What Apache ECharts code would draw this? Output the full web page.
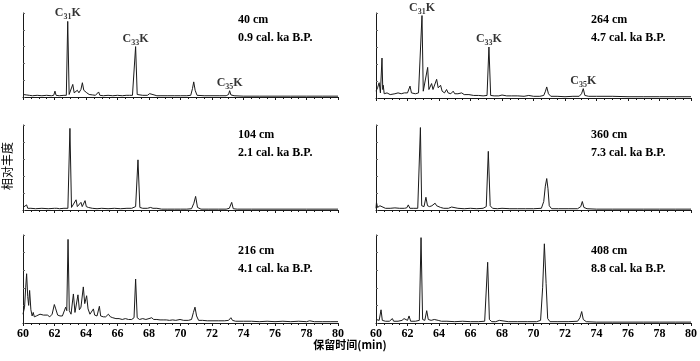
<!DOCTYPE html>
<html><head><meta charset="utf-8">
<script src="https://cdn.jsdelivr.net/npm/echarts@6/dist/echarts.min.js"></script>
<style>html,body{margin:0;padding:0;background:#fff}#c{width:700px;height:361px}</style>
</head><body><div id="c"></div>
<script>
// ---- DATA ----
const xTicks = [60,62,64,66,68,70,72,74,76,78,80];
const panelDepths = ['40 cm','264 cm','104 cm','360 cm','216 cm','408 cm'];
const panelAges = ['0.9 cal. ka B.P.','4.7 cal. ka B.P.','2.1 cal. ka B.P.','7.3 cal. ka B.P.','4.1 cal. ka B.P.','8.8 cal. ka B.P.'];

// chromatogram traces: [retention time (min), relative abundance (%)]
const trace40 = [[60.0,3],[60.1,4],[60.2,2.5],[60.4,2],[60.6,1.5],[60.9,2],[61.2,1.5],[61.5,2],[61.8,1.5],[61.95,2],[62.03,7],[62.1,2],[62.3,1.5],[62.6,2],[62.75,2],[62.84,90],[62.93,3],[63.05,4],[63.16,15],[63.25,5],[63.35,4],[63.45,8],[63.55,5],[63.68,9],[63.77,17],[63.86,8],[63.93,7],[63.98,10],[64.05,5],[64.2,3],[64.4,2.5],[64.6,2],[64.72,2],[64.8,6],[64.88,2],[65.1,1.5],[65.4,2],[65.7,1.5],[66.0,2],[66.3,1.5],[66.55,2],[66.65,3.5],[66.75,2],[66.95,2],[67.05,3],[67.15,60],[67.25,3],[67.35,2.5],[67.6,2],[67.9,2],[68.04,4],[68.15,2],[68.5,1.5],[68.7,1.5],[68.76,3],[68.82,1.5],[69.2,1.5],[69.6,1.5],[70.0,1.5],[70.4,1.5],[70.65,2],[70.76,10],[70.84,18],[70.93,8],[71.05,2],[71.5,1.5],[72,1.5],[72.5,1.5],[72.9,1.5],[73.05,3],[73.12,7.5],[73.2,2.5],[73.4,1.5],[74,1],[75,1],[76,1],[77,1],[78,1],[79,1],[80,1]];
const trace264 = [[60.0,8],[60.1,12],[60.2,18],[60.28,6],[60.38,47],[60.43,10],[60.46,15],[60.52,5],[60.7,6],[60.9,4],[61.0,6],[61.2,5],[61.4,6],[61.6,5],[61.8,6],[62.0,6],[62.16,14],[62.25,6],[62.5,5],[62.7,6],[62.82,8],[62.92,97],[63.0,8],[63.1,6],[63.28,36],[63.36,10],[63.45,8],[63.53,17],[63.62,10],[63.72,12],[63.85,22],[63.95,12],[64.1,15],[64.2,8],[64.35,6],[64.48,10],[64.58,6],[64.75,5],[64.9,8],[65.0,5],[65.2,5],[65.44,6],[65.6,4],[65.9,4],[66.2,3],[66.5,3],[66.8,2.5],[67.05,3],[67.17,60],[67.28,3],[67.5,2.5],[67.8,2.5],[68.0,3.5],[68.3,2.5],[68.6,2.5],[69.0,2.5],[69.4,2],[69.7,3],[70.0,2],[70.4,2],[70.65,3],[70.76,8],[70.84,13],[70.95,5],[71.1,2],[71.5,2],[72,1.5],[72.5,2],[72.9,2],[73.05,5],[73.16,11],[73.26,3],[73.5,2],[74,2],[75,2],[76,1.5],[77,1.5],[78,1.5],[79,1.5],[80,1.5]];
const trace104 = [[60.0,3],[60.1,3],[60.23,6],[60.3,2],[60.4,4],[60.5,2],[60.8,1.5],[61.2,2],[61.6,1.5],[62.0,2],[62.15,2],[62.24,4],[62.32,1.5],[62.6,2],[62.85,2],[62.98,96],[63.08,3],[63.2,4],[63.37,12],[63.45,4],[63.55,3],[63.68,9],[63.76,4],[63.85,5],[63.94,11],[64.02,4],[64.15,3],[64.4,2],[64.7,1.5],[65.0,2],[65.4,1.5],[65.8,2],[66.2,1.5],[66.6,2],[66.9,2],[67.15,4],[67.3,59],[67.42,3],[67.6,2],[67.9,2],[68.1,3],[68.17,3.5],[68.25,2],[68.5,2],[68.8,1],[69.2,1],[69.6,1],[70.0,1],[70.4,1],[70.7,1.5],[70.85,8],[70.96,16],[71.08,3],[71.3,1],[71.8,1],[72.4,1],[72.9,1],[73.1,2],[73.25,9],[73.35,1.5],[73.6,1],[74.5,1],[76,1],[78,1],[80,1]];
const trace360 = [[60.0,2],[60.03,9],[60.1,3],[60.25,5],[60.35,3],[60.6,2],[60.9,2],[61.2,2.5],[61.5,2],[61.8,2],[61.95,2.5],[62.05,6],[62.15,2],[62.4,2],[62.65,2],[62.75,4],[62.82,97],[62.9,5],[63.05,4],[63.17,15],[63.27,5],[63.4,4],[63.55,5],[63.65,4],[63.75,8],[63.85,5],[63.95,5],[64.1,3],[64.3,2],[64.6,2],[64.8,3.5],[64.9,2],[65.2,2],[65.6,1.5],[66.0,2],[66.4,1.5],[66.8,2],[67.0,4],[67.13,69],[67.25,5],[67.4,2],[67.7,1.5],[68.0,2],[68.5,1.5],[69.0,1.5],[69.5,1.5],[70.0,1.5],[70.5,2],[70.65,10],[70.75,28],[70.84,37],[70.92,25],[71.0,5],[71.15,1.5],[71.6,1.5],[72.2,1.5],[72.8,1.5],[73.0,4],[73.1,10],[73.2,3],[73.4,1.5],[74,1],[75,1],[76,1],[77,1],[78,1],[79,1],[80,1]];
const trace216 = [[60.0,10],[60.1,18],[60.17,40],[60.23,56],[60.3,30],[60.36,20],[60.42,37],[60.5,15],[60.58,8],[60.65,12],[60.72,7],[60.85,8],[60.95,7],[61.08,10],[61.15,8],[61.3,9],[61.4,7],[61.55,9],[61.7,7],[61.85,10],[61.99,21],[62.08,16],[62.2,9],[62.35,8],[62.5,8],[62.62,10],[62.71,18],[62.78,14],[62.86,95],[62.94,14],[63.05,10],[63.2,33],[63.3,12],[63.38,14],[63.49,32],[63.58,15],[63.68,18],[63.83,41],[63.92,22],[64.04,31],[64.13,16],[64.25,10],[64.35,12],[64.47,16],[64.55,9],[64.7,8],[64.85,19],[64.93,8],[65.1,7],[65.25,7],[65.42,10],[65.55,7],[65.7,6],[65.9,5],[66.1,5],[66.3,4],[66.5,5],[66.7,4],[66.9,4],[67.05,6],[67.15,50],[67.25,6],[67.4,4],[67.6,5],[67.8,4],[68.0,5],[68.17,6],[68.3,4],[68.5,4],[68.7,3.5],[68.9,3.5],[69.1,3.5],[69.3,3],[69.5,3.5],[69.7,3],[69.97,4],[70.2,3],[70.5,3],[70.7,4],[70.82,12],[70.92,18],[71.02,8],[71.15,3],[71.4,3],[71.7,2.5],[72.0,2.5],[72.4,2.5],[72.8,2.5],[73.05,3],[73.2,6],[73.3,3],[73.5,2],[74,2],[74.5,2],[75,1.5],[75.5,2],[76,1.5],[76.5,2],[77,1.5],[77.5,2],[78,1.5],[78.2,2.5],[78.5,1.5],[79,1.5],[79.5,1.5],[80,1.5]];
const trace408 = [[60.0,4],[60.1,5],[60.2,3],[60.32,15],[60.4,3],[60.6,2],[60.85,2],[60.95,3],[61.04,5],[61.12,2],[61.4,2],[61.65,3],[61.78,5],[61.88,3],[62.0,3],[62.1,8],[62.2,2],[62.5,2],[62.75,3],[62.86,97],[62.96,4],[63.1,3],[63.22,14],[63.32,4],[63.5,3],[63.7,4],[63.8,2.5],[63.95,3],[64.06,4],[64.15,2],[64.5,2],[65.0,1.5],[65.5,2],[66.0,1.5],[66.5,1.5],[66.9,2],[67.0,4],[67.09,69],[67.2,4],[67.35,1.5],[67.6,1.5],[67.83,3],[67.95,1.5],[68.4,1.5],[69.0,1.5],[69.6,1.5],[70.2,1.5],[70.45,3],[70.58,40],[70.69,90],[70.8,45],[70.9,5],[71.05,1.5],[71.5,1.5],[72.2,1.5],[72.8,2],[72.95,6],[73.06,13],[73.16,4],[73.35,1.5],[74,1],[75,1],[76,1],[77,1],[78,1],[79,1],[80,1]];

// peak annotations (panel index, retention time, peak height, carbon number)
const labelPanel = [0,0,0,1,1,1];
const labelTime  = [62.84,67.15,73.12,62.92,67.17,73.16];
const labelHeight= [90,60,7.5,97,60,11];
const labelCarbon= ['31','33','35','31','33','35'];

// ---- LAYOUT ----
const traces = [trace40,trace264,trace104,trace360,trace216,trace408];
const grids = [
  {left:23, top:13, width:315, height:84},
  {left:376,top:13, width:315, height:85},
  {left:23, top:125,width:315, height:85},
  {left:376,top:125,width:315, height:85},
  {left:23, top:235,width:315, height:88},
  {left:376,top:235,width:315, height:88}
];
const infoOffsets = [5,5,8,8,14,14];
const serif = '"Liberation Serif","Times New Roman",serif';
const ink = '#1a1a1a';

const xAxes = grids.map((g,i)=>({
  gridIndex:i, type:'value', min:60, max:80, interval:2,
  axisLine:{show:true, onZero:false, lineStyle:{color:ink,width:1}},
  axisTick:{show:true, length:3, lineStyle:{color:ink}},
  minorTick:{show:true, splitNumber:4, length:2, lineStyle:{color:ink}},
  splitLine:{show:false},
  axisLabel:{show:i>=4, color:'#000', fontFamily:serif, fontWeight:'bold', fontSize:12, margin:5,
    formatter:v=> xTicks.includes(v)? String(v):''}
}));
const yAxes = grids.map((g,i)=>({
  gridIndex:i, type:'value', min:0, max:100, interval:20,
  axisLine:{show:true, lineStyle:{color:ink,width:1}},
  axisTick:{show:true, inside:true, length:2, lineStyle:{color:'#666'}},
  axisLabel:{show:false}, splitLine:{show:false}
}));

const series = traces.map((d,i)=>({
  type:'line', xAxisIndex:i, yAxisIndex:i, data:d, symbol:'none', silent:true,
  lineStyle:{color:ink, width:1}, animation:false
}));

for (let p=0;p<6;p++){
  const pts = [];
  labelPanel.forEach((pi,k)=>{ if(pi===p) pts.push({value:[labelTime[k],labelHeight[k]], carbon:labelCarbon[k]}); });
  if(!pts.length) continue;
  series.push({
    type:'scatter', xAxisIndex:p, yAxisIndex:p, symbolSize:0, silent:true, animation:false,
    data:pts.map(o=>({value:o.value, name:o.carbon})),
    label:{show:true, position:'top', distance:0,
      formatter:prm=>'{c|C}{s|'+prm.name+'}{c|K}',
      rich:{
        c:{fontFamily:serif, fontWeight:'bold', fontSize:12, color:'#000', lineHeight:16},
        s:{fontFamily:serif, fontWeight:'bold', fontSize:8, color:'#000', lineHeight:8, padding:[8,0,0,0]}
      }}
  });
}

const graphics = [];
grids.forEach((g,i)=>{
  graphics.push({type:'text', left:g.left+215, top:g.top+infoOffsets[i]-7,
    style:{text:panelDepths[i]+'\n'+panelAges[i], font:'bold 12px '+serif, fill:'#000', lineHeight:18}});
});
graphics.push({type:'text', left:'center', top:339,
  style:{text:'保留时间(min)', font:'bold 11px "Noto Sans CJK SC", sans-serif', fill:'#000'}});
graphics.push({type:'text', x:1, y:190, rotation:Math.PI/2,
  style:{text:'相对丰度', font:'12px "Noto Sans CJK SC", sans-serif', fill:'#000'}});

const chart = echarts.init(document.getElementById('c'), null, {renderer:'canvas'});
chart.setOption({
  animation:false, backgroundColor:'#fff',
  grid:grids, xAxis:xAxes, yAxis:yAxes, series:series, graphic:graphics
});
</script></body></html>
